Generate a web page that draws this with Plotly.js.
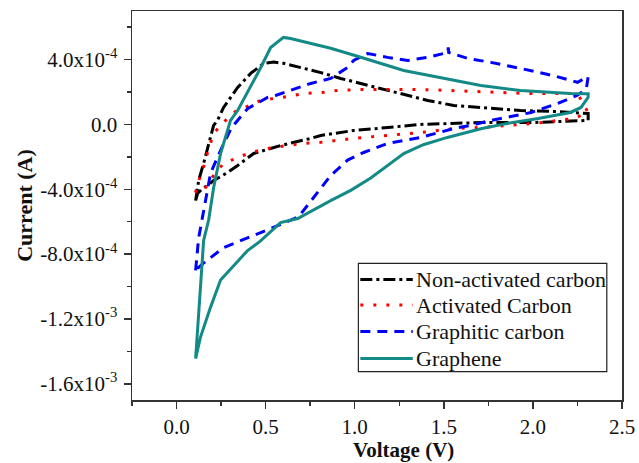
<!DOCTYPE html>
<html>
<head>
<meta charset="utf-8">
<script src="https://cdn.plot.ly/plotly-3.0.1.min.js"></script>
<style>html,body{margin:0;padding:0;background:#fff;}#chart{width:639px;height:463px;}</style>
</head>
<body>
<div id="chart"></div>
<script>
// Non-activated carbon (black dash-dot)
const nonActV = [0.107,0.124,0.152,0.18,0.208,0.23,0.264,0.343,0.416,0.489,0.545,0.60,0.713,0.81,0.921,1.034,1.185,1.298,1.41,1.556,1.708,1.93,2.118,2.31,
                 2.31,2.006,1.708,1.556,1.37,1.185,0.994,0.81,0.753,0.584,0.433,0.343,0.287,0.208,0.174,0.146,0.118,0.107];
const nonActI = [-4.7e-4,-3.46e-4,-2.4e-4,-1.3e-4,-0.06e-4,0.25e-4,1.05e-4,2.28e-4,3.15e-4,3.77e-4,3.85e-4,3.77e-4,3.46e-4,3.2e-4,2.84e-4,2.53e-4,2.1e-4,1.79e-4,1.48e-4,1.17e-4,1.05e-4,0.86e-4,0.8e-4,0.68e-4,
                 0.25e-4,0.12e-4,0.12e-4,0.06e-4,0,-0.19e-4,-0.37e-4,-0.68e-4,-0.86e-4,-1.3e-4,-1.79e-4,-2.53e-4,-2.96e-4,-3.46e-4,-3.77e-4,-3.95e-4,-4.26e-4,-4.7e-4];
// Activated Carbon (red dotted)
const actV = [0.107,0.118,0.146,0.174,0.208,0.258,0.32,0.404,0.472,0.545,0.629,0.713,0.826,0.904,1.05,1.2,1.354,1.522,1.669,1.82,1.97,2.25,2.31,
              2.23,2.006,1.708,1.556,1.37,1.185,0.994,0.81,0.713,0.584,0.511,0.416,0.343,0.264,0.208,0.152,0.107];
const actI = [-4.2e-4,-3.64e-4,-2.84e-4,-1.73e-4,-0.56e-4,0.06e-4,0.74e-4,1.17e-4,1.48e-4,1.6e-4,1.73e-4,1.91e-4,1.98e-4,2.1e-4,2.16e-4,2.16e-4,2.16e-4,2.1e-4,2.04e-4,1.98e-4,1.91e-4,1.91e-4,0.74e-4,
              0.37e-4,0.06e-4,-0.19e-4,-0.25e-4,-0.5e-4,-0.68e-4,-0.86e-4,-1.1e-4,-1.17e-4,-1.36e-4,-1.48e-4,-1.73e-4,-2.04e-4,-2.4e-4,-3.15e-4,-4.07e-4,-4.2e-4];
// Graphitic carbon (blue dashed)
const graphiticV = [0.107,0.124,0.146,0.163,0.191,0.247,0.309,0.399,0.511,0.556,0.64,0.753,0.865,0.96,0.994,1.073,1.185,1.298,1.41,1.522,1.525,1.527,1.635,1.764,1.93,2.118,2.25,2.31,
                    2.3,2.25,2.14,1.99,1.876,1.764,1.65,1.556,1.37,1.185,1.05,0.96,0.865,0.81,0.685,0.511,0.399,0.264,0.146,0.107];
const graphiticI = [-9.0e-4,-7.0e-4,-5.7e-4,-4.6e-4,-3.0e-4,-1.6e-4,-0.19e-4,0.98e-4,1.67e-4,1.79e-4,2.1e-4,2.53e-4,2.84e-4,3.52e-4,3.95e-4,4.38e-4,4.14e-4,3.95e-4,4.14e-4,4.44e-4,4.75e-4,4.44e-4,4.07e-4,3.83e-4,3.46e-4,3.0e-4,2.6e-4,2.95e-4,
                    2.2e-4,1.8e-4,1.3e-4,0.74e-4,0.49e-4,0.25e-4,-0.06e-4,-0.25e-4,-0.8e-4,-1.17e-4,-1.73e-4,-2.2e-4,-3.15e-4,-3.95e-4,-5.7e-4,-6.5e-4,-7.0e-4,-7.6e-4,-8.6e-4,-9.0e-4];
// Graphene (teal solid)
const grapheneV = [0.107,0.152,0.18,0.208,0.247,0.303,0.343,0.472,0.528,0.60,0.64,0.865,1.034,1.275,1.708,1.93,2.21,2.31,
                   2.31,2.27,2.21,2.03,1.85,1.708,1.52,1.385,1.275,1.18,1.09,0.98,0.865,0.68,0.584,0.47,0.397,0.247,0.19,0.135,0.107];
const grapheneI = [-1.445e-3,-7.16e-4,-5.9e-4,-3.9e-4,-1.8e-4,0.25e-4,0.86e-4,3.5e-4,4.75e-4,5.37e-4,5.3e-4,4.7e-4,4.15e-4,3.33e-4,2.4e-4,2.1e-4,1.91e-4,1.9e-4,
                   1.67e-4,1.05e-4,0.74e-4,0.37e-4,0.05e-4,-0.27e-4,-0.8e-4,-1.25e-4,-1.8e-4,-2.55e-4,-3.3e-4,-4.05e-4,-4.7e-4,-5.8e-4,-6.05e-4,-7.2e-4,-7.8e-4,-9.6e-4,-1.13e-3,-1.31e-3,-1.445e-3];

const seriesNames = ["Non-activated carbon","Activated Carbon","Graphitic carbon","Graphene"];
const seriesColors = ["#000000","#ff0000","#0000ff","#138a86"];
const seriesDash = ["12px,4px,3px,4px","3px,10px","10px,7px","solid"];
const xTickVals = [0,0.5,1.0,1.5,2.0,2.5];
const xTickText = ["0.0","0.5","1.0","1.5","2.0","2.5"];
const yTickVals = [-1.6e-3,-1.2e-3,-8e-4,-4e-4,0,4e-4];
const yTickText = ["-1.6x10<sup>-3</sup>","-1.2x10<sup>-3</sup>","-8.0x10<sup>-4</sup>","-4.0x10<sup>-4</sup>","0.0","4.0x10<sup>-4</sup>"];

const FONT = "Liberation Serif, Times New Roman, serif";
const xs = [nonActV, actV, graphiticV, grapheneV];
const ys = [nonActI, actI, graphiticI, grapheneI];
const traces = xs.map((x, i) => ({
  x: x, y: ys[i], name: seriesNames[i], mode: "lines", showlegend: false,
  line: {color: seriesColors[i], width: 3, dash: seriesDash[i]}
}));

// Legend drawn as a boxed key (paper coordinates)
const legBox = {x0: 0.462, x1: 0.969, y0: 0.073, y1: 0.351};
const legRows = [0.310, 0.244, 0.176, 0.107];
const shapes = [{type: "rect", xref: "paper", yref: "paper", x0: legBox.x0, x1: legBox.x1, y0: legBox.y0, y1: legBox.y1,
                 line: {color: "#222", width: 1.2}, fillcolor: "#fff", layer: "above"}];
const annotations = [];
legRows.forEach((yy, i) => {
  shapes.push({type: "line", xref: "paper", yref: "paper", x0: 0.466, x1: 0.573, y0: yy, y1: yy,
               line: {color: seriesColors[i], width: 3, dash: seriesDash[i]}, layer: "above"});
  annotations.push({xref: "paper", yref: "paper", x: 0.576, y: yy, xanchor: "left", yanchor: "middle",
                    text: seriesNames[i], showarrow: false, font: {family: FONT, size: 22, color: "#111"}});
});
annotations.push({xref: "paper", yref: "paper", x: 0.555, y: -0.129, xanchor: "center", yanchor: "middle",
                  text: "<b>Voltage (V)</b>", showarrow: false, font: {family: FONT, size: 21, color: "#111"}});

const axisCommon = {
  showgrid: false, zeroline: false, showline: true, mirror: true,
  linecolor: "#333", linewidth: 1.5,
  ticks: "outside", ticklen: 7, tickwidth: 1.5, tickcolor: "#333",
  tickfont: {family: FONT, size: 21, color: "#111"}
};

const layout = {
  width: 639, height: 463,
  margin: {l: 132, r: 17, t: 11, b: 63},
  paper_bgcolor: "#fff", plot_bgcolor: "#fff",
  font: {family: FONT, color: "#111"},
  showlegend: false,
  shapes: shapes,
  annotations: annotations,
  xaxis: Object.assign({}, axisCommon, {
    range: [-0.25, 2.5], tickmode: "array", tickvals: xTickVals, ticktext: xTickText,
    minor: {tickvals: [-0.25,0.25,0.75,1.25,1.75,2.25], ticks: "outside", ticklen: 4, tickwidth: 1.5, tickcolor: "#333"}
  }),
  yaxis: Object.assign({}, axisCommon, {
    range: [-1.7e-3, 7e-4], tickmode: "array", tickvals: yTickVals, ticktext: yTickText,
    ticklabelstandoff: 2,
    minor: {tickvals: [-1.4e-3,-1.0e-3,-6e-4,-2e-4,2e-4,6e-4], ticks: "outside", ticklen: 4, tickwidth: 1.5, tickcolor: "#333"},
    title: {text: "<b>Current (A)</b>", font: {family: FONT, size: 22, color: "#111"}, standoff: 1}
  })
};

Plotly.newPlot("chart", traces, layout, {displayModeBar: false, staticPlot: true});
</script>
</body>
</html>
